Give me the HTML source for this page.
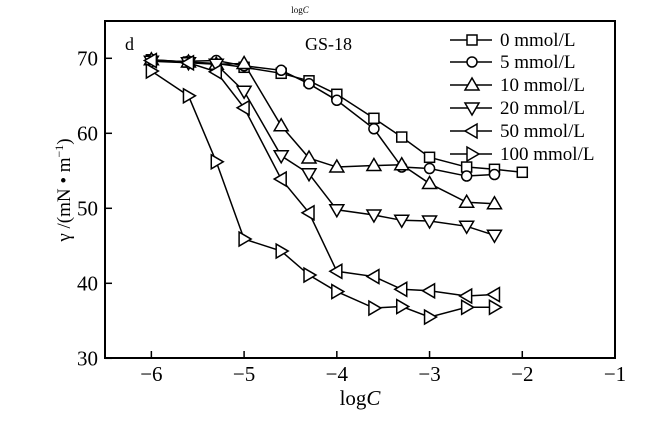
<!DOCTYPE html>
<html><head><meta charset="utf-8"><style>
body{margin:0;background:#fff}
svg{display:block;font-family:"Liberation Serif",serif}
</style></head><body>
<svg id="s" width="645" height="421" viewBox="0 0 645 421" xmlns="http://www.w3.org/2000/svg">
<rect width="645" height="421" fill="#fff"/>
<text x="300" y="13" font-size="9" text-anchor="middle">log<tspan font-style="italic">C</tspan></text>
<rect x="105" y="21" width="510" height="337" fill="none" stroke="#000" stroke-width="2"/>
<text x="125" y="50" font-size="18">d</text>
<text x="305" y="50" font-size="18">GS-18</text>
<text transform="translate(70,190) rotate(-90)" font-size="19" text-anchor="middle">γ /(mN • m<tspan dy="-7" font-size="12">−1</tspan><tspan dy="7">)</tspan></text>
<text x="360" y="405" font-size="21" text-anchor="middle">log<tspan font-style="italic">C</tspan></text>
<g id="g"></g>
</svg>
<script>
const X=v=>105+(v+6.5)*92.73, Y=v=>58.3+(70-v)*7.5;
const g=document.getElementById('g');let h='';
for(const t of [-6,-5,-4,-3,-2,-1]){h+=`<line x1="${X(t)}" y1="358" x2="${X(t)}" y2="351" stroke="#000" stroke-width="1.5"/><text x="${X(t)}" y="381" font-size="21" text-anchor="middle">−${-t}</text>`;}
for(const t of [30,40,50,60,70]){h+=`<line x1="105" y1="${Y(t)}" x2="112" y2="${Y(t)}" stroke="#000" stroke-width="1.5"/><text x="98" y="${Y(t)+7}" font-size="21" text-anchor="end">${t}</text>`;}
const xs=[-6,-5.6,-5.3,-5,-4.6,-4.3,-4,-3.6,-3.3,-3,-2.6,-2.3,-2];
const D=[
['sq',[69.8,69.5,69.3,68.8,68,67,65.2,62,59.5,56.8,55.5,55.2,54.8]],
['ci',[69.6,69.6,69.7,69,68.4,66.6,64.4,60.6,55.5,55.3,54.3,54.5]],
['up',[69.8,69.5,69.2,69.3,61,56.7,55.5,55.7,55.8,53.3,50.8,50.6]],
['dn',[69.6,69.4,69.2,65.6,57,54.6,49.8,49.1,48.4,48.3,47.6,46.4]],
['lt',[69.7,69.4,68.2,63.4,53.9,49.4,41.6,40.9,39.2,39,38.3,38.5]],
['rt',[68.3,65,56.2,45.9,44.3,41.1,38.9,36.7,36.9,35.5,36.8,36.8]]];
function mk(t,x,y){const s='fill="#fff" stroke="#000" stroke-width="1.5"';
if(t=='sq')return `<rect x="${x-5}" y="${y-5}" width="10" height="10" ${s}/>`;
if(t=='ci')return `<circle cx="${x}" cy="${y}" r="5" ${s}/>`;
if(t=='up')return `<polygon points="${x},${y-7} ${x-7},${y+5} ${x+7},${y+5}" ${s}/>`;
if(t=='dn')return `<polygon points="${x},${y+7} ${x-7},${y-5} ${x+7},${y-5}" ${s}/>`;
if(t=='lt')return `<polygon points="${x-7},${y} ${x+5},${y-7} ${x+5},${y+7}" ${s}/>`;
return `<polygon points="${x+7},${y} ${x-5},${y-7} ${x-5},${y+7}" ${s}/>`;}
let lines='',marks='';
for(const [t,ys] of D){const p=ys.map((v,i)=>X(xs[i])+','+Y(v)).join(' ');
lines+=`<polyline points="${p}" fill="none" stroke="#000" stroke-width="1.5"/>`;
ys.forEach((v,i)=>marks+=mk(t,X(xs[i]),Y(v)));}
const L=['0 mmol/L','5 mmol/L','10 mmol/L','20 mmol/L','50 mmol/L','100 mmol/L'];
const ly=[40,62,85,108,131,154];
L.forEach((s,i)=>{marks+=`<line x1="450" y1="${ly[i]}" x2="492" y2="${ly[i]}" stroke="#000" stroke-width="1.5"/>`+mk(D[i][0],472,ly[i])+`<text x="500" y="${ly[i]+6}" font-size="19">${s}</text>`;});
g.innerHTML=h+lines+marks;
</script>
</body></html>
